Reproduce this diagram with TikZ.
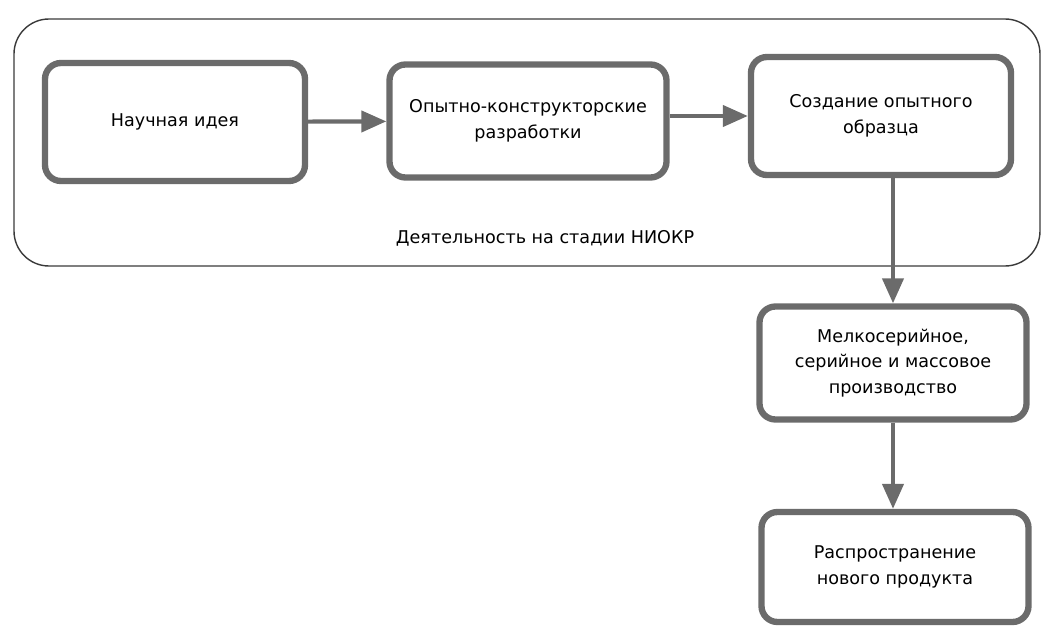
\documentclass[tikz,border=0pt]{standalone}
\usepackage{fontspec}
\setmainfont{DejaVu Sans}
\usepackage{tikz}
\usetikzlibrary{arrows.meta,positioning}
\definecolor{NIOKRLine}{HTML}{6B6B6B}
\definecolor{NIOKRFrame}{HTML}{3A3A3A}

\begin{document}
\begin{tikzpicture}[
      x=0.2mm,y=-0.2mm,
      >={Triangle[length=5mm,width=4.2mm]},
      stage/.style={draw=NIOKRLine,line width=3.6pt,rounded corners=3.2mm,
        align=center,font=\fontsize{10}{14.5}\selectfont,inner sep=0pt},
      flow/.style={->,draw=NIOKRLine,fill=NIOKRLine,line width=2.4pt},
      frame/.style={draw=NIOKRFrame,line width=0.8pt,rounded corners=7mm}
    ]
    \useasboundingbox (0,0) rectangle (1063,626);
    % stage of research and development
    \draw[frame] (14,19) rectangle (1040,266);
    \node[font=\fontsize{10}{12}\selectfont] (niokr) at (545,238)
      {Деятельность на стадии НИОКР};

    \node[stage,minimum width=52mm,minimum height=23.6mm] (idea) at (175,122)
      {Научная идея};
    \node[stage,minimum width=55.4mm,minimum height=22.6mm] (design) at (528,121)
      {Опытно-конструкторские\\разработки};
    \node[stage,minimum width=52mm,minimum height=23.6mm] (proto) at (881,116)
      {Создание опытного\\образца};

    \node[stage,minimum width=53.4mm,minimum height=22.6mm] (mass) at (893,363)
      {Мелкосерийное,\\серийное и массовое\\производство};
    \node[stage,minimum width=53.4mm,minimum height=22mm] (spread) at (895,567)
      {Распространение\\нового продукта};

    \draw[flow] (idea) -- (design);
    \draw[flow] (design.east |- proto.west) -- (proto.west);
    \draw[flow] (proto.south -| mass.north) -- (mass.north);
    \draw[flow] (mass.south) -- (spread.north -| mass.south);
  \end{tikzpicture}
\end{document}
